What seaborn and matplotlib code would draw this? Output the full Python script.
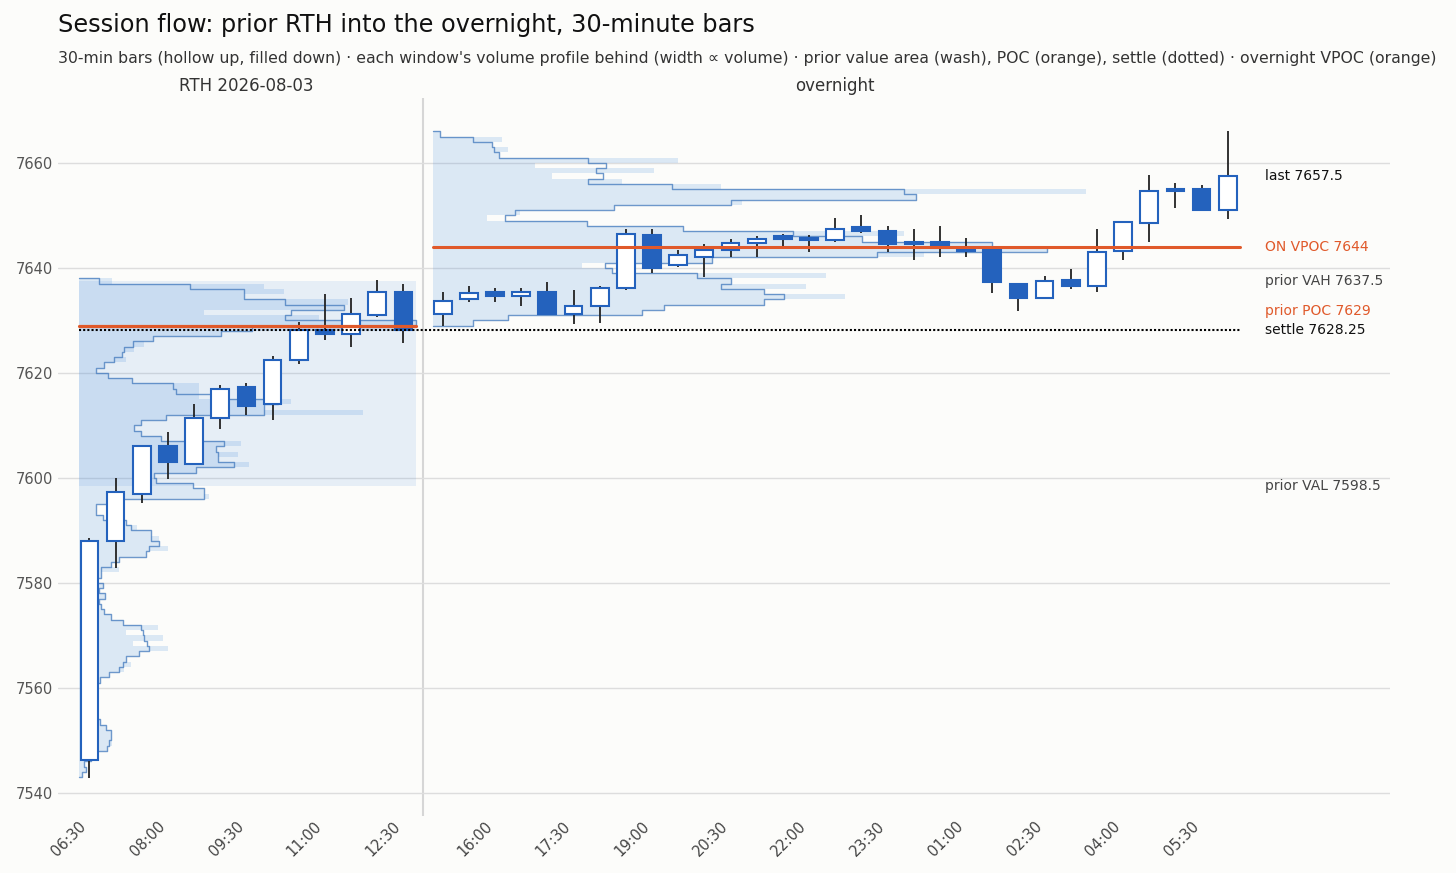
import numpy as np
import matplotlib
matplotlib.use('Agg')
import matplotlib.pyplot as plt
import matplotlib.transforms as mtransforms
import seaborn as sns

# ---- bar times (30-min) ----
rth_times = ["06:30", "07:00", "07:30", "08:00", "08:30", "09:00", "09:30",
             "10:00", "10:30", "11:00", "11:30", "12:00", "12:30"]
on_times = ["15:00", "15:30", "16:00", "16:30", "17:00", "17:30", "18:00",
            "18:30", "19:00", "19:30", "20:00", "20:30", "21:00", "21:30",
            "22:00", "22:30", "23:00", "23:30", "00:00", "00:30", "01:00",
            "01:30", "02:00", "02:30", "03:00", "03:30", "04:00", "04:30",
            "05:00", "05:30", "06:00"]

# ---- prior RTH OHLC ----
rth_open = [7546.25, 7588.0, 7597.0, 7606.0, 7602.75, 7611.5, 7617.25,
            7614.0, 7622.5, 7628.25, 7627.5, 7631.0, 7635.5]
rth_high = [7588.5, 7600.0, 7606.25, 7608.75, 7614.0, 7617.75, 7618.0,
            7623.25, 7629.75, 7635.0, 7634.25, 7637.75, 7637.0]
rth_low = [7542.75, 7582.75, 7595.25, 7599.75, 7602.5, 7609.25, 7612.0,
           7611.0, 7621.75, 7626.25, 7625.0, 7630.75, 7625.75]
rth_close = [7588.0, 7597.25, 7606.0, 7603.0, 7611.5, 7617.0, 7613.75,
             7622.5, 7628.25, 7627.5, 7631.25, 7635.5, 7628.25]

# ---- overnight OHLC ----
on_open = [7631.25, 7634.0, 7635.5, 7634.75, 7635.5, 7631.25, 7632.75,
           7636.25, 7646.25, 7640.5, 7642.0, 7643.5, 7644.75, 7646.0,
           7645.75, 7645.25, 7647.75, 7647.0, 7644.5, 7645.0, 7643.75,
           7643.5, 7637.0, 7634.25, 7637.75, 7636.5, 7643.25, 7648.5,
           7654.75, 7655.0, 7651.0]
on_high = [7635.5, 7636.5, 7636.25, 7636.25, 7637.25, 7635.75, 7636.5,
           7647.5, 7647.5, 7643.5, 7644.5, 7645.5, 7646.0, 7646.5,
           7646.25, 7649.5, 7650.0, 7648.0, 7647.5, 7648.0, 7645.75,
           7643.5, 7637.0, 7638.5, 7639.75, 7647.5, 7649.0, 7657.75,
           7656.25, 7655.75, 7666.0]
on_low = [7629.0, 7633.5, 7633.5, 7632.75, 7631.0, 7629.25, 7629.5,
          7635.75, 7639.0, 7640.25, 7638.25, 7642.0, 7642.0, 7644.25,
          7643.0, 7645.0, 7646.75, 7643.0, 7641.5, 7642.0, 7642.0,
          7635.25, 7631.75, 7634.25, 7636.0, 7635.5, 7641.5, 7645.0,
          7651.5, 7651.0, 7649.25]
on_close = [7633.75, 7635.25, 7634.75, 7635.5, 7631.25, 7632.75, 7636.25,
            7646.5, 7640.0, 7642.5, 7643.5, 7644.75, 7645.5, 7645.5,
            7645.25, 7647.5, 7647.0, 7644.5, 7645.0, 7643.75, 7643.25,
            7637.25, 7634.25, 7637.5, 7636.5, 7643.0, 7648.75, 7654.75,
            7655.0, 7651.0, 7657.5]

# ---- volume profiles, 1-pt rows from the lowest row up ----
rth_prof_low = 7543
rth_profile = [3, 7, 5, 12, 18, 28, 30, 32, 32, 27,
               21, 16, 12, 10, 14, 9, 11, 15, 21, 30,
               40, 44, 47, 60, 70, 68, 65, 64, 62, 44,
               32, 25, 22, 20, 26, 20, 24, 18, 22, 22,
               32, 40, 67, 70, 80, 72, 72, 52, 47, 24,
               17, 17, 35, 125, 125, 114, 77, 75, 117, 155,
               139, 139, 137, 145, 82, 62, 55, 62, 87, 185,
               185, 199, 134, 97, 94, 53, 29, 17, 25, 35,
               43, 45, 54, 74, 142, 173, 337, 206, 212, 265,
               206, 165, 165, 111, 20]
rth_raw = [3, 7, 5, 12, 18, 28, 33, 32, 32, 27,
           21, 16, 12, 10, 14, 9, 11, 15, 21, 30,
           45, 52, 47, 60, 89, 54, 84, 47, 79, 44,
           32, 25, 22, 20, 26, 20, 24, 18, 22, 40,
           32, 40, 67, 89, 80, 80, 72, 58, 47, 24,
           17, 17, 35, 130, 125, 114, 77, 75, 117, 170,
           139, 159, 137, 162, 82, 62, 55, 62, 87, 284,
           185, 212, 120, 120, 120, 53, 29, 17, 25, 47,
           43, 55, 65, 74, 142, 315, 337, 240, 125, 265,
           269, 165, 205, 185, 33]

on_prof_low = 7629
on_profile = [40, 75, 210, 232, 332, 352, 332, 289, 299, 265,
              180, 172, 280, 445, 615, 560, 430, 361, 251, 154,
              72, 82, 182, 299, 484, 472, 240, 155, 170, 163,
              174, 155, 66, 61, 59, 40, 7]
on_raw = [40, 75, 210, 232, 332, 413, 332, 374, 299, 394,
          180, 149, 280, 492, 615, 560, 430, 472, 251, 154,
          54, 87, 182, 310, 484, 654, 289, 190, 119, 222,
          102, 246, 66, 75, 59, 69, 7]

# ---- reference levels ----
prior_vah = 7637.5
prior_val = 7598.5
prior_poc = 7629
settle = 7628.25
on_vpoc = 7644
last_price = 7657.5

BG = "#fcfcfa"
BLUE = "#2462bd"
WICK = "#222222"
PROF = "#4a8fdc"
OUTLINE = "#4a7fc0"
ORANGE = "#e0592a"
GRID = "#dddddd"

sns.set_theme(style="whitegrid", rc={"axes.facecolor": BG, "figure.facecolor": BG,
                                     "grid.color": GRID, "grid.linewidth": 1.0})
plt.rcParams['font.family'] = ['DejaVu Sans']

fig = plt.figure(figsize=(14.56, 8.73), dpi=100)
ax = fig.add_axes([58 / 1456, 1 - 816 / 873, (1390 - 58) / 1456, 718 / 873])
ax.set_facecolor(BG)

rth_x = np.arange(len(rth_times), dtype=float)
on_x = rth_x[-1] + 1.5 + np.arange(len(on_times), dtype=float)

left_pad, right_pad = 0.38, 0.48
rth_x0, rth_x1 = rth_x[0] - left_pad, rth_x[-1] + right_pad
on_x0, on_x1 = on_x[0] - left_pad, on_x[-1] + right_pad
# width proportional to volume, RTH POC row fills the window
scale = (rth_x1 - rth_x0) / max(rth_raw)


def draw_profile(base, low, outline, raw):
    levels = low + np.arange(len(raw))
    ax.barh(levels, np.asarray(raw) * scale, height=1.0, left=base, align='edge',
            color=PROF, alpha=0.18, linewidth=0, zorder=1)
    edges = np.append(levels, levels[-1] + 1)
    w = np.asarray(outline) * scale
    xs = base + np.concatenate([[0], np.repeat(w, 2), [0]])
    ys = np.concatenate([[edges[0]], np.repeat(edges, 2)[1:-1], [edges[-1]]])
    ax.plot(xs, ys, color=OUTLINE, lw=1.0, alpha=0.8, zorder=1.5)


# prior value area wash
ax.fill_between([rth_x0, rth_x1], prior_val, prior_vah, color=PROF, alpha=0.12,
                linewidth=0, zorder=0.8)
draw_profile(rth_x0, rth_prof_low, rth_profile, rth_raw)
draw_profile(on_x0, on_prof_low, on_profile, on_raw)


def draw_candles(x, o, h, l, c):
    o, h, l, c = map(np.asarray, (o, h, l, c))
    ax.vlines(x, l, h, color=WICK, lw=1.3, zorder=3)
    up = c >= o
    bottom = np.minimum(o, c)
    height = np.maximum(np.abs(c - o), 0.25)
    ax.bar(x[up], height[up], bottom=bottom[up], width=0.68, color="white",
           edgecolor=BLUE, linewidth=1.5, zorder=4)
    ax.bar(x[~up], height[~up], bottom=bottom[~up], width=0.68, color=BLUE,
           edgecolor=BLUE, linewidth=1.5, zorder=4)


draw_candles(rth_x, rth_open, rth_high, rth_low, rth_close)
draw_candles(on_x, on_open, on_high, on_low, on_close)

# level lines
ax.plot([rth_x0, rth_x1], [prior_poc, prior_poc], color=ORANGE, lw=2.3, zorder=5)
ax.plot([on_x0, on_x1], [on_vpoc, on_vpoc], color=ORANGE, lw=2.2, zorder=5)
ax.plot([rth_x0, on_x1], [settle, settle], color="black", lw=1.5,
        linestyle=(0, (1, 1)), zorder=5)

# session divider
ax.axvline((rth_x[-1] + on_x[0]) / 2, color="#d6d6d6", lw=1.5, zorder=0.5)

# right-hand labels, nudged apart where they would overlap
labels = [
    (last_price, f"last {last_price:g}", "#111111"),
    (on_vpoc, f"ON VPOC {on_vpoc:g}", ORANGE),
    (prior_vah, f"prior VAH {prior_vah:g}", "#444444"),
    (prior_poc, f"prior POC {prior_poc:g}", ORANGE),
    (settle, f"settle {settle:g}", "#111111"),
    (prior_val, f"prior VAL {prior_val:g}", "#444444"),
]
labels.sort(key=lambda t: t[0])
min_gap = 3.5
placed = []
for price, text, col in labels:
    y = price
    if placed and y - placed[-1] < min_gap:
        y = placed[-1] + min_gap
    placed.append(y)
    ax.text(on_x[-1] + 1.43, y, text, color=col, fontsize=10, va='center', ha='left')

# axes styling
ax.set_xlim(-1.2, 49.7)
ax.set_ylim(7535.6, 7672.38)
ax.set_yticks(np.arange(7540, 7661, 20))
all_x = np.concatenate([rth_x, on_x])
all_t = rth_times + on_times
ax.set_xticks(all_x[::3])
ax.set_xticklabels(all_t[::3], rotation=45, ha='right')
ax.tick_params(axis='both', length=0, labelsize=10.5)
ax.tick_params(axis='x', pad=2, labelcolor="#444444")
ax.tick_params(axis='y', labelcolor="#555555")
ax.grid(axis='x', visible=False)
ax.grid(axis='y', color=GRID, lw=1.0)
ax.set_axisbelow(True)
for s in ax.spines.values():
    s.set_visible(False)

trans = mtransforms.blended_transform_factory(ax.transData, ax.transAxes)
ax.text(rth_x.mean(), 1 + 12 / 718, "RTH 2026-08-03", transform=trans, ha='center',
        va='center', fontsize=12, color="#333333")
ax.text(on_x.mean(), 1 + 12 / 718, "overnight", transform=trans, ha='center',
        va='center', fontsize=12, color="#333333")

fig.text(58 / 1456, 1 - 25 / 873, "Session flow: prior RTH into the overnight, 30-minute bars",
         fontsize=17.3, va='center', ha='left', color="#111111")
fig.text(58 / 1456, 1 - 58 / 873,
         "30-min bars (hollow up, filled down) \u00b7 each window's volume profile behind "
         "(width \u221d volume) \u00b7 prior value area (wash), POC (orange), settle (dotted) "
         "\u00b7 overnight VPOC (orange)",
         fontsize=11.3, va='center', ha='left', color="#333333")

fig.savefig("out.png", dpi=100, facecolor=BG)
